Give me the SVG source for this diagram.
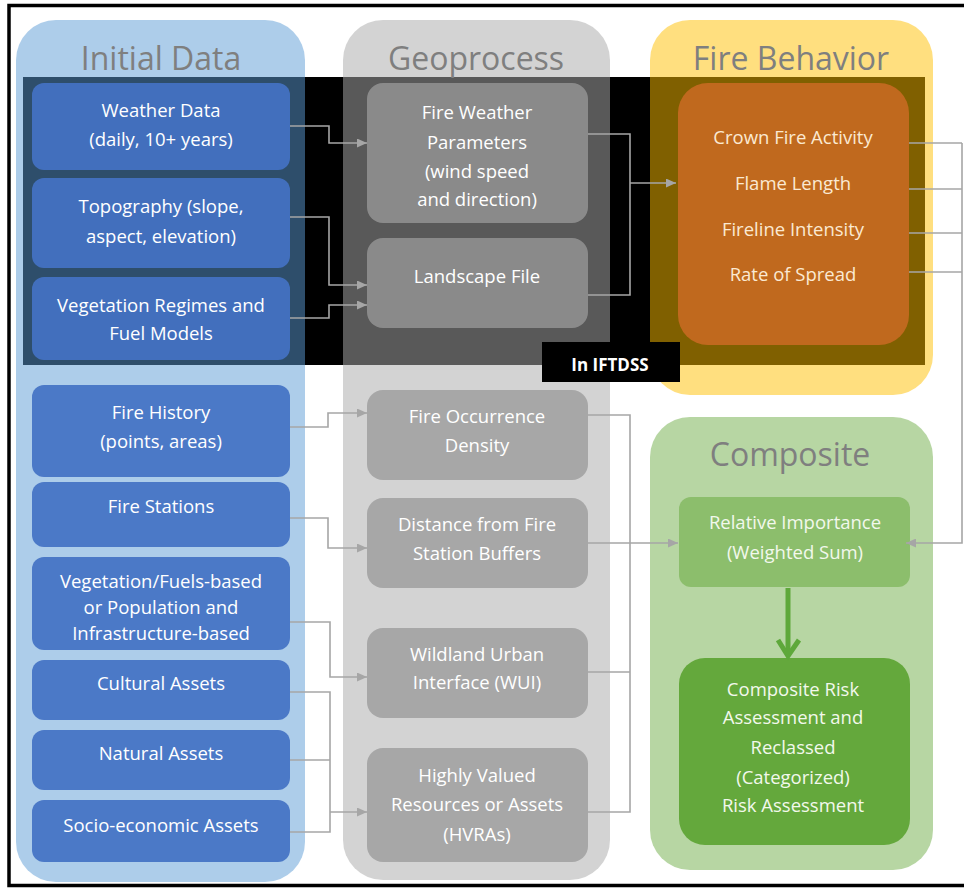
<svg xmlns="http://www.w3.org/2000/svg" width="964" height="892" viewBox="0 0 964 892">
<defs>
<style>
.title{font-family:"Open Sans","Liberation Sans",sans-serif;font-size:32px;fill:#7f7f7f;text-anchor:middle}
.t{font-family:"Open Sans","Liberation Sans",sans-serif;font-size:18.5px;fill:#ffffff;text-anchor:middle}
.tc{font-family:"Open Sans","Liberation Sans",sans-serif;font-size:18.5px;fill:#fbe9d2;text-anchor:middle}
.tg{font-family:"Open Sans","Liberation Sans",sans-serif;font-size:18.5px;fill:#f2f8ec;text-anchor:middle}
.blue{fill:#4472c4;opacity:0.93}
.gray{fill:#9a9a9a;opacity:0.77}
.conn{fill:none;stroke:#a6a6a6;stroke-width:1.6}
</style>
<marker id="ah" viewBox="0 0 10 9" refX="10" refY="4.5" markerWidth="10" markerHeight="9" markerUnits="userSpaceOnUse" orient="auto">
<path d="M0,0 L10,4.5 L0,9 z" fill="#a6a6a6"/>
</marker>
</defs>
<rect x="0" y="0" width="964" height="892" fill="#ffffff"/>
<rect id="iftdss-band" x="23" y="77" width="902" height="288" fill="#000000"/>

<g id="col-initial"><rect x="16" y="20" width="289" height="862" rx="40" fill="#5b9bd5" opacity="0.5"/><text class="title" x="161" y="70">Initial Data</text></g>
<g id="col-geoprocess"><rect x="343" y="20" width="267" height="860" rx="40" fill="#aaaaaa" opacity="0.52"/><text class="title" x="476" y="70">Geoprocess</text></g>
<g id="col-fire"><rect x="650" y="20" width="283" height="375" rx="40" fill="#ffc000" opacity="0.5"/><text class="title" x="791" y="70">Fire Behavior</text></g>
<g id="col-composite"><rect x="650" y="417" width="283" height="453" rx="40" fill="#70ad47" opacity="0.5"/><text class="title" x="790" y="466">Composite</text></g>

<g id="weather"><rect class="blue" x="32" y="83" width="258" height="87" rx="12"/><text class="t" x="161" y="117">Weather Data</text><text class="t" x="161" y="146">(daily, 10+ years)</text></g>
<g id="topography"><rect class="blue" x="32" y="178" width="258" height="90" rx="12"/><text class="t" x="161" y="213">Topography (slope,</text><text class="t" x="161" y="243">aspect, elevation)</text></g>
<g id="vegetation"><rect class="blue" x="32" y="277" width="258" height="83" rx="12"/><text class="t" x="161" y="312">Vegetation Regimes and</text><text class="t" x="161" y="340">Fuel Models</text></g>
<g id="fire-history"><rect class="blue" x="32" y="385" width="258" height="92" rx="12"/><text class="t" x="161" y="419">Fire History</text><text class="t" x="161" y="448">(points, areas)</text></g>
<g id="fire-stations"><rect class="blue" x="32" y="482" width="258" height="65" rx="12"/><text class="t" x="161" y="513">Fire Stations</text></g>
<g id="veg-pop"><rect class="blue" x="32" y="557" width="258" height="93" rx="12"/><text class="t" x="161" y="588">Vegetation/Fuels-based</text><text class="t" x="161" y="614">or Population and</text><text class="t" x="161" y="640">Infrastructure-based</text></g>
<g id="cultural"><rect class="blue" x="32" y="660" width="258" height="60" rx="12"/><text class="t" x="161" y="690">Cultural Assets</text></g>
<g id="natural"><rect class="blue" x="32" y="730" width="258" height="60" rx="12"/><text class="t" x="161" y="760">Natural Assets</text></g>
<g id="socio"><rect class="blue" x="32" y="800" width="258" height="62" rx="12"/><text class="t" x="161" y="832">Socio-economic Assets</text></g>

<g id="fire-weather-params"><rect class="gray" x="367" y="83" width="221" height="140" rx="16"/><text class="t" x="477" y="119">Fire Weather</text><text class="t" x="477" y="149">Parameters</text><text class="t" x="477" y="178">(wind speed</text><text class="t" x="477" y="206">and direction)</text></g>
<g id="landscape"><rect class="gray" x="367" y="238" width="221" height="90" rx="16"/><text class="t" x="477" y="283">Landscape File</text></g>
<g id="fire-occurrence"><rect class="gray" x="367" y="390" width="221" height="90" rx="16"/><text class="t" x="477" y="423">Fire Occurrence</text><text class="t" x="477" y="452">Density</text></g>
<g id="distance"><rect class="gray" x="367" y="498" width="221" height="90" rx="16"/><text class="t" x="477" y="531">Distance from Fire</text><text class="t" x="477" y="560">Station Buffers</text></g>
<g id="wui"><rect class="gray" x="367" y="628" width="221" height="90" rx="16"/><text class="t" x="477" y="661">Wildland Urban</text><text class="t" x="477" y="689">Interface (WUI)</text></g>
<g id="hvras"><rect class="gray" x="367" y="748" width="221" height="114" rx="16"/><text class="t" x="477" y="782">Highly Valued</text><text class="t" x="477" y="811">Resources or Assets</text><text class="t" x="477" y="841">(HVRAs)</text></g>

<g id="fire-behavior-outputs"><rect x="678" y="83" width="231" height="262" rx="30" fill="#c0691e"/><text class="tc" x="793" y="144">Crown Fire Activity</text><text class="tc" x="793" y="190">Flame Length</text><text class="tc" x="793" y="236">Fireline Intensity</text><text class="tc" x="793" y="281">Rate of Spread</text></g>

<g id="relative-importance"><rect x="679" y="497" width="231" height="90" rx="12" fill="#70ad47" opacity="0.6"/><text class="tg" x="795" y="529">Relative Importance</text><text class="tg" x="795" y="559">(Weighted Sum)</text></g>
<g id="composite-risk"><rect x="679" y="658" width="231" height="187" rx="26" fill="#64a83c"/><text class="tg" x="793" y="696">Composite Risk</text><text class="tg" x="793" y="724">Assessment and</text><text class="tg" x="793" y="754">Reclassed</text><text class="tg" x="793" y="784">(Categorized)</text><text class="tg" x="793" y="812">Risk Assessment</text></g>

<g id="connectors">
<path class="conn" d="M290,126 H329 V143 H367" marker-end="url(#ah)"/>
<path class="conn" d="M290,217 H329 V285 H367" marker-end="url(#ah)"/>
<path class="conn" d="M290,318 H329 V305 H367" marker-end="url(#ah)"/>
<path class="conn" d="M588,134 H630 V295 H588"/>
<path class="conn" d="M630,183 H676" marker-end="url(#ah)"/>
<path class="conn" d="M909,143 H962 M909,189 H962 M909,233 H962 M909,272 H962"/>
<path class="conn" d="M962,143 V543 H906" marker-end="url(#ah)"/>
<path class="conn" d="M290,427 H328 V413 H367" marker-end="url(#ah)"/>
<path class="conn" d="M290,518 H328 V548 H367" marker-end="url(#ah)"/>
<path class="conn" d="M290,622 H330 V677 H367" marker-end="url(#ah)"/>
<path class="conn" d="M290,692 H330 V832 H290 M290,760 H330"/>
<path class="conn" d="M330,812 H367" marker-end="url(#ah)"/>
<path class="conn" d="M588,415 H630 V812 H588 M588,672 H630"/>
<path class="conn" d="M588,543 H678" marker-end="url(#ah)"/>
<path d="M788,588 V655" fill="none" stroke="#5ea83a" stroke-width="5"/>
<path d="M778,640 L788,656 L799,640" fill="none" stroke="#5ea83a" stroke-width="5" stroke-linejoin="miter"/>
</g>

<g id="in-iftdss"><rect x="542" y="342" width="138" height="40" fill="#000000"/><text x="610" y="371" font-family="'Open Sans','Liberation Sans',sans-serif" font-size="17" font-weight="bold" fill="#ffffff" text-anchor="middle">In IFTDSS</text></g>
<rect id="frame" x="9" y="5.5" width="975" height="880" fill="none" stroke="#000000" stroke-width="3.5"/>
</svg>
